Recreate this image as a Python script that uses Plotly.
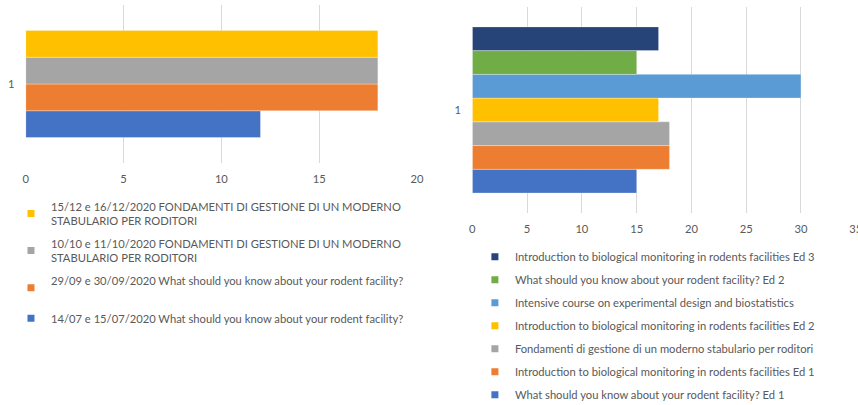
import plotly.graph_objects as go

# ---- data ----
category = ["1"]

left_names = [
    "14/07 e 15/07/2020 What should you know about your rodent facility?",
    "29/09 e 30/09/2020 What should you know about your rodent facility?<br> ",
    "10/10 e 11/10/2020 FONDAMENTI DI GESTIONE DI UN MODERNO<br>STABULARIO PER RODITORI",
    "15/12 e 16/12/2020 FONDAMENTI DI GESTIONE DI UN MODERNO<br>STABULARIO PER RODITORI",
]
left_values = [12, 18, 18, 18]
left_colors = ["#4472C4", "#ED7D31", "#A5A5A5", "#FFC000"]

right_names = [
    "What should you know about your rodent facility? Ed 1",
    "Introduction to biological monitoring in rodents facilities Ed 1",
    "Fondamenti di gestione di un moderno stabulario per roditori",
    "Introduction to biological monitoring in rodents facilities Ed 2",
    "Intensive course on experimental design and biostatistics",
    "What should you know about your rodent facility? Ed 2",
    "Introduction to biological monitoring in rodents facilities Ed 3",
]
right_values = [15, 18, 18, 17, 30, 15, 17]
right_colors = ["#4472C4", "#ED7D31", "#A5A5A5", "#FFC000", "#5B9BD5", "#70AD47", "#264478"]

left_ticks = [0, 5, 10, 15, 20]
right_ticks = [0, 5, 10, 15, 20, 25, 30, 35]

FONT = "Lato"
FS = 11.2
TXT = "#595959"
GRID = "#D9D9D9"

fig = go.Figure()


def add_series(names, values, colors, xa, ya, leg, prefix):
    n_series = len(names)
    for i, (n, v, c) in enumerate(zip(names, values, colors)):
        fig.add_trace(go.Bar(
            y=category, x=[v], name=n, orientation="h", marker_color=c,
            marker_line=dict(color="rgba(255,255,255,0.6)", width=0.5),
            xaxis=xa, yaxis=ya, showlegend=False, legendgroup=f"{prefix}{i}",
        ))
        # legend swatch (small square like the original)
        fig.add_trace(go.Scatter(
            x=[None], y=[None], mode="markers", name=n,
            marker=dict(symbol="square", size=7, color=c),
            xaxis=xa, yaxis=ya, legend=leg, legendgroup=f"{prefix}{i}",
            legendrank=n_series - i, showlegend=True, hoverinfo="skip",
        ))


add_series(left_names, left_values, left_colors, "x", "y", "legend", "l")
add_series(right_names, right_values, right_colors, "x2", "y2", "legend2", "r")

axis_common = dict(showline=False, zeroline=False, gridcolor=GRID, gridwidth=1,
                   automargin=False, ticklabeloverflow="allow",
                   tickfont=dict(family=FONT, size=FS, color=TXT),
                   ticks="outside", ticklen=6, tickcolor="rgba(0,0,0,0)")
yaxis_common = dict(showgrid=False, showline=False, zeroline=False, automargin=False,
                    tickfont=dict(family=FONT, size=FS, color=TXT),
                    ticks="outside", ticklen=8, tickcolor="rgba(0,0,0,0)")

fig.update_layout(
    width=858, height=405,
    margin=dict(l=0, r=0, t=0, b=0, autoexpand=False),
    paper_bgcolor="white", plot_bgcolor="white",
    barmode="group", bargap=0.194, bargroupgap=0,
    font=dict(family=FONT, size=FS, color=TXT),
    xaxis=dict(domain=[0.030, 0.486], range=[0, 20], tickvals=left_ticks,
               anchor="y", **axis_common),
    yaxis=dict(domain=[0.5975, 0.9877], range=[-0.595, 0.595], anchor="x", **yaxis_common),
    xaxis2=dict(domain=[0.5505, 0.998], range=[0, 35.05], tickvals=right_ticks,
                anchor="y2", **axis_common),
    yaxis2=dict(domain=[0.474, 0.983], range=[-0.5, 0.5], anchor="x2", **yaxis_common),
    legend=dict(x=0.0128, y=0.525, xanchor="left", yanchor="top",
                traceorder="grouped", tracegroupgap=5,
                font=dict(family=FONT, size=FS, color=TXT),
                bgcolor="rgba(0,0,0,0)"),
    legend2=dict(x=0.5535, y=0.402, xanchor="left", yanchor="top",
                 traceorder="grouped", tracegroupgap=4,
                 font=dict(family=FONT, size=FS, color=TXT),
                 bgcolor="rgba(0,0,0,0)"),
    showlegend=True,
)

fig.write_html(
    "out.html",
    config={"displayModeBar": False},
    post_script="document.body.style.margin='0';document.body.style.overflow='hidden';",
)
